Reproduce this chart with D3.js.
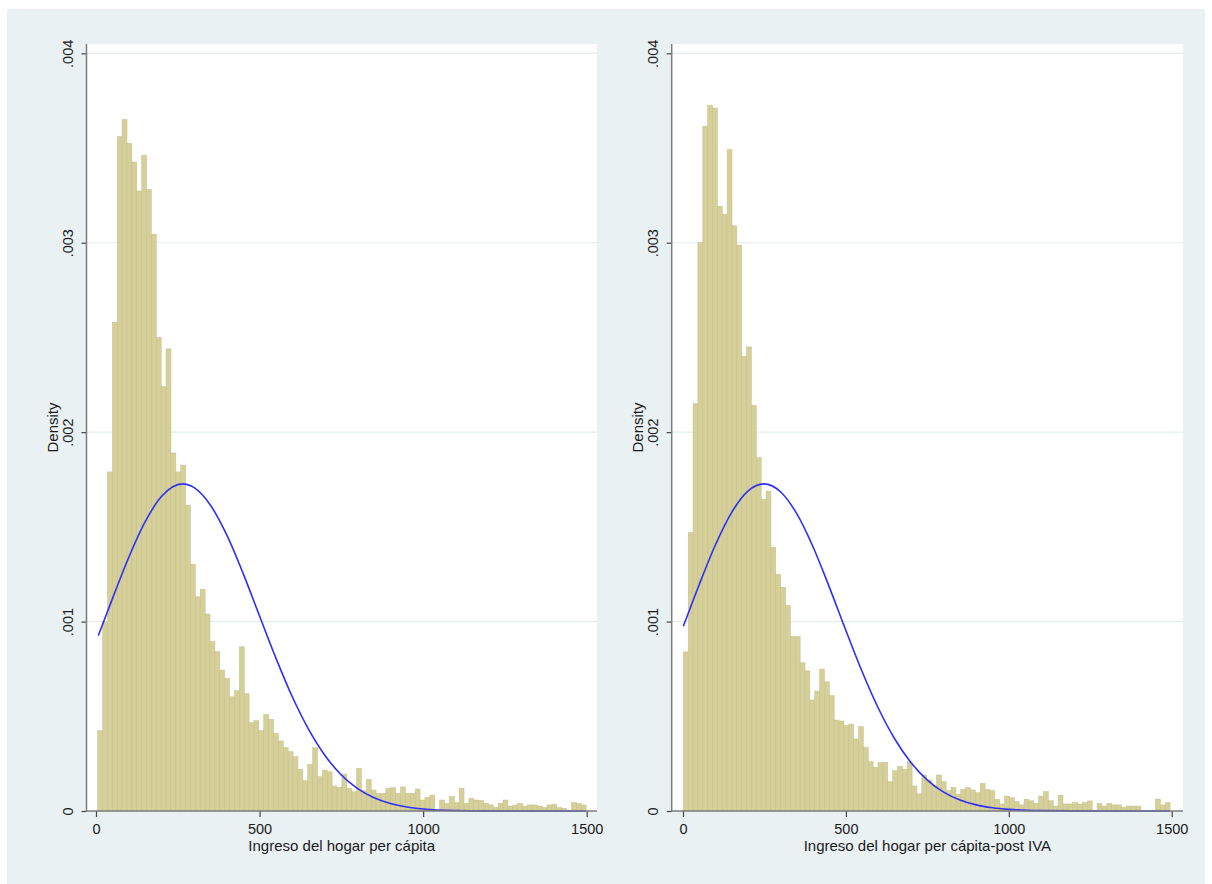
<!DOCTYPE html>
<html>
<head>
<meta charset="utf-8">
<script src="https://cdn.jsdelivr.net/npm/d3@7"></script>
<style>
  html, body { margin: 0; padding: 0; background: #ffffff; }
  svg { display: block; font-family: "Liberation Sans", Arial, sans-serif; }
</style>
</head>
<body>
<svg id="chart" width="1212" height="884"></svg>
<script>
// Histogram densities, 100 equal-width bins per panel
const leftDensity = [
  0.000424, 0.001, 0.00179, 0.00258, 0.00356, 0.00365, 0.003525, 0.003426, 0.003273, 0.003462,
  0.00328, 0.003045, 0.0025, 0.00224, 0.00244, 0.00189, 0.00179, 0.001826, 0.001615, 0.001303,
  0.001131, 0.001171, 0.00104, 0.000894, 0.000841, 0.000744, 0.0007, 0.000603, 0.000635, 0.000867,
  0.00062, 0.000466, 0.000477, 0.000424, 0.00051, 0.000484, 0.00041, 0.00037, 0.000334, 0.000313,
  0.000287, 0.00022, 0.00016, 0.000246, 0.000334, 0.000181, 0.000216, 0.000207, 0.000132, 0.000125,
  0.000195, 0.00012, 0.000102, 0.000225, 0.000107, 0.000167, 0.000111, 0.000093, 0.000093, 0.00012,
  0.000123, 0.000093, 0.000127, 0.000093, 0.000093, 0.000116, 0.000058, 0.000072, 0.000084, 0,
  0.000058, 0.00004, 0.000076, 0.000044, 0.00012, 0.00004, 0.000067, 0.000058, 0.000055, 0.00004,
  0.000032, 0.000019, 0.00004, 0.000058, 0.000026, 0.000032, 0.00004, 0.000026, 0.000032, 0.000032,
  0.000026, 0.000019, 0.000032, 0.000035, 0.000019, 0.000014, 0, 0.000044, 0.00004, 0.000032
];
const rightDensity = [
  0.00084, 0.00147, 0.00215, 0.003, 0.003615, 0.003726, 0.003711, 0.003193, 0.00315, 0.003492,
  0.003089, 0.002987, 0.0024, 0.00245, 0.002142, 0.001866, 0.001645, 0.001689, 0.001392, 0.001249,
  0.001181, 0.001085, 0.00092, 0.000922, 0.000783, 0.00074, 0.000586, 0.000633, 0.000749, 0.000682,
  0.000609, 0.00048, 0.000475, 0.00045, 0.000459, 0.00038, 0.000445, 0.000336, 0.00026, 0.000231,
  0.000255, 0.000257, 0.000155, 0.000213, 0.000236, 0.00022, 0.00026, 0.000132, 0.00009, 0.00019,
  0.000164, 0.000137, 0.00019, 0.000155, 0.000107, 0.000125, 0.000088, 0.000114, 0.000123, 0.000111,
  0.000097, 0.000146, 0.000114, 0.000107, 0.000062, 0.000037, 0.000079, 0.00007, 0.000049, 0.000032,
  0.000062, 0.000054, 0.00004, 0.000079, 0.000102, 0.000054, 0.000026, 0.000084, 0.000037, 0.000037,
  0.000044, 0.000037, 0.000044, 0.000053, 0.000004, 0.00004, 0.000026, 0.00004, 0.000032, 0.000032,
  0.000019, 0.000026, 0.000026, 0.000026, 0, 0, 0, 0.000063, 0.000032, 0.000044
];

// Lower edge of the first bin and bin width, in income units
const leftBinStart = 5.2;
const leftBinWidth = 14.93;
const rightBinStart = 1;
const rightBinWidth = 14.94;

// Normal density overlay: [income, density]
const leftNormal = [
  [7, 0.000926], [50, 0.00112], [100, 0.001338], [150, 0.001526], [200, 0.00166],
  [265, 0.001727], [300, 0.001707], [350, 0.001614], [400, 0.001456], [450, 0.001253],
  [500, 0.001029], [550, 0.000807], [600, 0.000603], [650, 0.000431], [700, 0.000293],
  [750, 0.00019], [800, 0.000118], [850, 0.0000699], [900, 0.0000395], [950, 0.0000213],
  [1000, 0.0000109], [1100, 0.0000025], [1200, 0.0000005], [1300, 0], [1400, 0], [1498, 0]
];
const rightNormal = [
  [1, 0.000975], [50, 0.001196], [100, 0.001407], [150, 0.001578], [200, 0.00169],
  [248, 0.001727], [300, 0.001684], [350, 0.001567], [400, 0.001391], [450, 0.001178],
  [500, 0.000953], [550, 0.000735], [600, 0.000541], [650, 0.00038], [700, 0.000255],
  [750, 0.000163], [800, 0.0000994], [850, 0.0000579], [900, 0.0000322], [950, 0.0000171],
  [1000, 0.0000086], [1100, 0.0000019], [1200, 0.0000004], [1300, 0], [1400, 0], [1495, 0]
];

const xTicks = [0, 500, 1000, 1500];
const yTicks = [0, 0.001, 0.002, 0.003, 0.004];
const yTitle = "Density";
const xTitles = ["Ingreso del hogar per cápita", "Ingreso del hogar per cápita-post IVA"];

const svg = d3.select("#chart");

// Graph region background
svg.append("rect")
  .attr("x", 7).attr("y", 9).attr("width", 1198).attr("height", 875)
  .attr("fill", "#e9f1f3");

const panels = [
  { density: leftDensity, binStart: leftBinStart, binWidth: leftBinWidth, normal: leftNormal,
    title: xTitles[0], axisX: 86.5, plotRight: 597, x0: 96, x1: 586.7 },
  { density: rightDensity, binStart: rightBinStart, binWidth: rightBinWidth, normal: rightNormal,
    title: xTitles[1], axisX: 671.7, plotRight: 1183, x0: 683, x1: 1171.7 }
];

const plotTop = 44, plotBottom = 811;
const axisColor = "#7c7c7c";
const tickFontSize = 14.5;
const titleFontSize = 15;
const textColor = "#1b1b1b";

panels.forEach(p => {
  const g = svg.append("g");
  const x = d3.scaleLinear().domain([0, 1500]).range([p.x0, p.x1]);
  const y = d3.scaleLinear().domain([0, 0.004]).range([plotBottom, 53.3]);

  // plot region
  g.append("rect")
    .attr("x", p.axisX).attr("y", plotTop)
    .attr("width", p.plotRight - p.axisX).attr("height", plotBottom - plotTop)
    .attr("fill", "#ffffff");

  // horizontal grid lines
  g.append("g").selectAll("line")
    .data(yTicks.filter(v => v > 0))
    .join("line")
    .attr("x1", p.axisX).attr("x2", p.plotRight)
    .attr("y1", d => y(d)).attr("y2", d => y(d))
    .attr("stroke", "#e4eef1").attr("stroke-width", 1.2);

  // histogram bars
  g.append("g").selectAll("rect")
    .data(p.density)
    .join("rect")
    .attr("x", (d, i) => x(p.binStart + i * p.binWidth))
    .attr("width", x(p.binWidth) - x(0))
    .attr("y", d => y(d))
    .attr("height", d => y(0) - y(d))
    .attr("fill", "#d5cf99")
    .attr("stroke", "#c6bf87")
    .attr("stroke-width", 0.5);

  // normal density overlay
  const line = d3.line()
    .x(d => x(d[0]))
    .y(d => y(d[1]))
    .curve(d3.curveMonotoneX);
  g.append("path")
    .datum(p.normal)
    .attr("d", line)
    .attr("fill", "none")
    .attr("stroke", "#2f2ff5")
    .attr("stroke-width", 1.6);

  // y axis
  const yAxis = g.append("g")
    .attr("transform", `translate(${p.axisX},0)`)
    .call(d3.axisLeft(y)
      .tickValues(yTicks)
      .tickSize(5)
      .tickFormat(v => v === 0 ? "0" : d3.format(".3f")(v).replace(/^0/, "")));
  yAxis.select(".domain").remove();
  yAxis.selectAll(".tick line").attr("stroke", "#444").attr("stroke-width", 1.2);
  yAxis.selectAll(".tick text")
    .attr("x", null).attr("dy", null)
    .attr("transform", "translate(-18.5,0) rotate(-90)")
    .attr("text-anchor", "middle")
    .attr("dominant-baseline", "central")
    .attr("font-size", tickFontSize)
    .attr("font-family", "Liberation Sans, Arial, sans-serif")
    .attr("fill", textColor);
  g.append("line")
    .attr("x1", p.axisX).attr("x2", p.axisX)
    .attr("y1", plotTop).attr("y2", plotBottom)
    .attr("stroke", axisColor).attr("stroke-width", 1.5);

  // x axis
  const xAxis = g.append("g")
    .attr("transform", `translate(0,${plotBottom})`)
    .call(d3.axisBottom(x).tickValues(xTicks).tickSize(6).tickPadding(6.5).tickFormat(d3.format("d")));
  xAxis.select(".domain").remove();
  xAxis.selectAll(".tick line").attr("stroke", "#444").attr("stroke-width", 1.2);
  xAxis.selectAll(".tick text")
    .attr("font-size", tickFontSize)
    .attr("font-family", "Liberation Sans, Arial, sans-serif")
    .attr("fill", textColor);
  g.append("line")
    .attr("x1", p.axisX).attr("x2", p.plotRight)
    .attr("y1", plotBottom).attr("y2", plotBottom)
    .attr("stroke", axisColor).attr("stroke-width", 1.5);

  // axis titles
  g.append("text")
    .attr("transform", `translate(${p.axisX - 34.5},${(plotTop + plotBottom) / 2}) rotate(-90)`)
    .attr("text-anchor", "middle")
    .attr("dominant-baseline", "central")
    .attr("font-size", titleFontSize)
    .attr("fill", textColor)
    .text(yTitle);
  g.append("text")
    .attr("x", (p.axisX + p.plotRight) / 2)
    .attr("y", 851)
    .attr("text-anchor", "middle")
    .attr("font-size", titleFontSize)
    .attr("fill", textColor)
    .text(p.title);
});
</script>
</body>
</html>
